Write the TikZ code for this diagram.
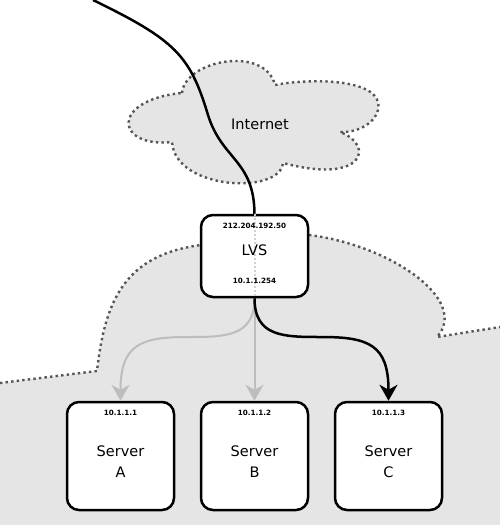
\documentclass[tikz,border=0pt]{standalone}
\usepackage{fontspec}
\setmainfont{DejaVu Sans}
\usetikzlibrary{arrows.meta}

\definecolor{netgray}{HTML}{E5E5E5}
\definecolor{dotgray}{HTML}{555555}
\definecolor{linkgray}{HTML}{BDBDBD}

\tikzset{
  cloudline/.style={draw=dotgray, line width=2.4pt, dash pattern=on 2.4pt off 3.2pt},
  hostbox/.style={draw, fill=white, line width=2.5pt, rounded corners=12pt,
    minimum width=107pt, inner sep=0pt},
  addr/.style={font=\fontsize{7.2}{8}\selectfont\bfseries, inner sep=0pt},
  hostname/.style={font=\fontsize{14.5}{21}\selectfont, align=center, inner sep=0pt},
  idlelink/.style={draw=linkgray, line width=2pt, -{Stealth[length=16pt,width=18pt,inset=5pt]}},
  uselink/.style={draw=black, line width=2.5pt, -{Stealth[length=16pt,width=18pt,inset=5pt]}}
}

\begin{document}
\begin{tikzpicture}[x=1pt, y=-1pt]
      \useasboundingbox (0,0) rectangle (500,525);

      % 'internal network'
      \fill[netgray] (0,383) -- (97,371) .. controls (105,300) and (125,255) .. (201,245)
        -- (309,235) .. controls (390,245) and (470,300) .. (437,337) -- (500,327)
        -- (500,525) -- (0,525) -- cycle;
      \draw[cloudline] (0,383) -- (97,371) .. controls (105,300) and (125,255) .. (201,245);
      \draw[cloudline] (309,235) .. controls (390,245) and (470,300) .. (437,337) -- (500,327);

      % 'internet'
      \path[fill=netgray, cloudline] (182,93) .. controls (185,60) and (265,45) .. (275,85)
        .. controls (310,78) and (385,78) .. (378,110)
        .. controls (374,125) and (355,133) .. (340,132)
        .. controls (375,145) and (365,185) .. (283,163)
        .. controls (280,195) and (175,190) .. (172,142)
        .. controls (115,148) and (110,100) .. (182,93) -- cycle;
      \node at (260,124) (inet) {\fontsize{14.5}{16}\selectfont Internet};

      % 'lvs'
      \node[hostbox, minimum height=82pt] at (254.5,256) (lvs) {};
      \draw[linkgray!70, line width=2pt, dash pattern=on 2pt off 2pt] (lvs.north) -- (lvs.south);
      \node[addr] at (254.5,226) (lvsout) {212.204.192.50};
      \node[hostname] at (254.5,250) (lvsname) {LVS};
      \node[addr] at (254.5,281) (lvsin) {10.1.1.254};

      \coordinate (uplink) at (93,0);
      \draw[line width=2.5pt] (uplink) .. controls (175,40) and (190,55) .. (208,115)
        .. controls (222,160) and (254,160) .. (lvs.north);

      % 'servers'
      \node[hostbox, minimum height=108pt] at (120.5,456) (sa) {};
      \node[addr] at (120.5,413) {10.1.1.1};
      \node[hostname] at (120.5,462) {Server\\A};

      \node[hostbox, minimum height=108pt] at (254.5,456) (sb) {};
      \node[addr] at (254.5,413) {10.1.1.2};
      \node[hostname] at (254.5,462) {Server\\B};

      \node[hostbox, minimum height=108pt] at (388.5,456) (sc) {};
      \node[addr] at (388.5,413) {10.1.1.3};
      \node[hostname] at (388.5,462) {Server\\C};

      % 'links'
      \draw[idlelink] (lvs.south) .. controls (254.5,337) and (225,337) .. (187.5,337)
        .. controls (140,337) and (120.5,345) .. (sa.north);
      \draw[idlelink] (lvs.south) -- (sb.north);
      \draw[uselink] (lvs.south) .. controls (254.5,337) and (284,337) .. (321.5,337)
        .. controls (369,337) and (388.5,345) .. (sc.north);
    \end{tikzpicture}
\end{document}
